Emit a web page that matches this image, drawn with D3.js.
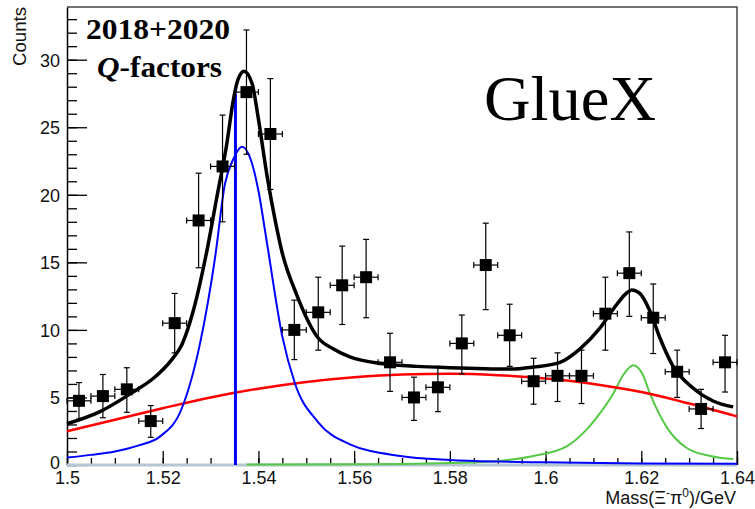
<!DOCTYPE html>
<html>
<head>
<meta charset="utf-8">
<script src="https://cdn.jsdelivr.net/npm/d3@7"></script>
<style>
body { margin: 0; background: #fff; }
svg { display: block; background: #fff; }
</style>
</head>
<body>
<svg id="drawing_region"></svg>
<script>
// histogram: bin centres (width 0.005 GeV), counts and error bar ends
const binCenters = [1.5025, 1.5075, 1.5125, 1.5175, 1.5225, 1.5275, 1.5325, 1.5375, 1.5425, 1.5475,
                    1.5525, 1.5575, 1.5625, 1.5675, 1.5725, 1.5775, 1.5825, 1.5875, 1.5925, 1.5975,
                    1.6025, 1.6075, 1.6125, 1.6175, 1.6225, 1.6275, 1.6325, 1.6375];
const counts    = [4.75, 5.1, 5.6, 3.25, 10.5, 18.1, 22.1, 27.6, 24.5, 10.0,
                   11.3, 13.3, 13.9, 7.6, 5.0, 5.75, 9.0, 14.8, 9.6, 6.2,
                   6.6, 6.6, 11.2, 14.2, 10.9, 6.9, 4.15, 7.6];
const errHigh   = [6.1, 6.7, 7.2, 4.4, 12.7, 21.6, 25.9, 32.2, 28.6, 12.2,
                   13.9, 16.2, 16.7, 9.75, 6.5, 7.3, 11.1, 17.9, 11.9, 7.9,
                   8.3, 8.5, 13.9, 17.25, 13.4, 8.5, 5.6, 9.6];
const errLow    = [3.4, 3.5, 3.9, 2.05, 8.3, 14.6, 18.0, 23.0, 20.4, 7.8,
                   8.5, 10.4, 10.9, 5.45, 3.3, 3.95, 6.75, 11.5, 7.3, 4.5,
                   4.7, 4.55, 8.5, 11.0, 8.25, 5.0, 2.7, 5.4];
const binHalfWidth = 0.0025;

// fit curves: [mass, counts]
const totalFit = [[1.5, 3.05], [1.5069, 3.95], [1.5138, 5.4], [1.518, 6.4], [1.5219, 7.8], [1.524, 8.9],
                  [1.5263, 11.3], [1.5292, 15.8], [1.5313, 19.8], [1.5334, 23.8], [1.5347, 26.9],
                  [1.5357, 28.5], [1.537, 29.15], [1.5387, 28.2], [1.540, 25.6], [1.5418, 21.4],
                  [1.5435, 18.1], [1.5449, 15.8], [1.548, 12.6], [1.5525, 9.4], [1.5556, 8.6],
                  [1.5591, 8.0], [1.566, 7.5], [1.5731, 7.3], [1.580, 7.2], [1.5926, 7.1],
                  [1.5974, 7.25], [1.603, 7.6], [1.6072, 8.6], [1.6114, 10.15], [1.6149, 11.9],
                  [1.617, 12.75], [1.618, 12.96], [1.6197, 12.7], [1.6218, 11.4], [1.6239, 9.4],
                  [1.6266, 7.33], [1.6308, 5.7], [1.635, 4.74], [1.6392, 4.3]];
const xi1530Fit = [[1.5, 0.55], [1.505, 0.75], [1.510, 1.0], [1.515, 1.45], [1.5194, 2.1], [1.524, 4.2],
                   [1.5278, 9.0], [1.531, 15.5], [1.533, 20.8], [1.5347, 22.6], [1.5366, 23.55],
                   [1.5385, 22.5], [1.540, 20.3], [1.5418, 16.4], [1.545, 9.5], [1.5476, 6.07],
                   [1.5524, 3.2], [1.559, 1.55], [1.5696, 0.67], [1.580, 0.37], [1.590, 0.25],
                   [1.600, 0.2], [1.620, 0.12], [1.640, 0.1]];
const xi1620Fit = [[1.5375, 0.03], [1.560, 0.05], [1.570, 0.07], [1.580, 0.14], [1.590, 0.3], [1.5975, 0.67],
                   [1.6045, 1.4], [1.6085, 2.6], [1.6115, 3.9], [1.6141, 5.26], [1.6163, 6.7],
                   [1.6183, 7.38], [1.6203, 6.7], [1.6218, 5.3], [1.6254, 2.75], [1.6295, 1.26],
                   [1.6344, 0.67], [1.6392, 0.44]];
const backgroundFit = [[1.50, 2.5], [1.51, 3.35], [1.52, 4.2], [1.53, 5.0], [1.54, 5.65], [1.55, 6.15],
                       [1.56, 6.5], [1.57, 6.7], [1.58, 6.75], [1.59, 6.65], [1.60, 6.4], [1.61, 6.0],
                       [1.62, 5.4], [1.63, 4.55], [1.64, 3.6]];
const thresholdLine = [1.5352, 27.5];

const xTickValues = [1.5, 1.52, 1.54, 1.56, 1.58, 1.6, 1.62, 1.64];
const yTickValues = [0, 5, 10, 15, 20, 25, 30];

class MassPlot {
    constructor(config) {
        this.config = config;
        this.init();
    }

    init() {
        const self = this;
        const cfg = self.config;

        self.svg = d3.select(cfg.parent)
            .attr("width", cfg.width)
            .attr("height", cfg.height);

        self.chart = self.svg.append("g")
            .attr("transform", `translate(${cfg.margin.left},${cfg.margin.top})`);

        self.inner_width  = cfg.width  - cfg.margin.left - cfg.margin.right;
        self.inner_height = cfg.height - cfg.margin.top  - cfg.margin.bottom;

        self.xscale = d3.scaleLinear().domain([1.5, 1.64]).range([0, self.inner_width]);
        self.yscale = d3.scaleLinear().domain([0, 33.9]).range([self.inner_height, 0]);
    }

    render() {
        const self = this;
        const x = self.xscale, y = self.yscale;
        const W = self.inner_width, H = self.inner_height;
        const sans = "'Liberation Sans', Arial, sans-serif";
        const serif = "'Liberation Serif', 'Times New Roman', serif";

        // frame
        self.chart.append("path")
            .attr("d", `M0,0H${W}V${H}`)
            .attr("fill", "none")
            .attr("stroke", "#444")
            .attr("stroke-width", 1.5);

        // minor + major ticks (inside the frame, ROOT style)
        const yMinor = d3.axisLeft(y).tickValues(d3.range(0, 34, 1)).tickSize(-10).tickSizeOuter(0).tickFormat("");
        const yMajor = d3.axisLeft(y).tickValues(yTickValues).tickSize(-20).tickSizeOuter(0).tickPadding(7);
        const xMinor = d3.axisBottom(x).tickValues(d3.range(0, 29).map(i => 1.5 + i * 0.005)).tickSize(-7).tickSizeOuter(0).tickFormat("");
        const xMajor = d3.axisBottom(x).tickValues(xTickValues).tickSize(-14).tickSizeOuter(0)
            .tickPadding(6).tickFormat(d3.format("~g"));

        const gy1 = self.chart.append("g").call(yMinor);
        const gy2 = self.chart.append("g").call(yMajor);
        const gx1 = self.chart.append("g").attr("transform", `translate(0,${H})`).call(xMinor);
        const gx2 = self.chart.append("g").attr("transform", `translate(0,${H})`).call(xMajor);

        [gy1, gy2, gx1, gx2].forEach(g => {
            g.selectAll(".tick line").attr("stroke", "#000").attr("stroke-width", 1.3);
            g.selectAll("text")
                .attr("fill", "#111")
                .style("font-family", sans)
                .style("font-size", "18px");
        });
        gy2.selectAll("text").attr("dy", "0.35em");
        gy2.selectAll(".tick").filter(d => d === 0).select("text").attr("dy", "0.2em");
        gy2.select(".domain").attr("stroke", "#000").attr("stroke-width", 1.5);
        gy1.select(".domain").remove();
        gx1.select(".domain").remove();
        gx2.select(".domain").remove();

        const line = d3.line()
            .x(d => x(d[0]))
            .y(d => y(d[1]))
            .curve(d3.curveMonotoneX);

        // baseline
        self.chart.append("line")
            .attr("x1", 0).attr("x2", W)
            .attr("y1", y(0)).attr("y2", y(0))
            .attr("stroke", "#b6c6d2")
            .attr("stroke-width", 3);

        self.chart.append("path").datum(xi1620Fit).attr("d", line)
            .attr("fill", "none").attr("stroke", "#55c845").attr("stroke-width", 2);
        self.chart.append("path").datum(backgroundFit).attr("d", line)
            .attr("fill", "none").attr("stroke", "#f00").attr("stroke-width", 2.5);
        self.chart.append("path").datum(xi1530Fit).attr("d", line)
            .attr("fill", "none").attr("stroke", "#00f").attr("stroke-width", 2);
        self.chart.append("line")
            .attr("x1", x(thresholdLine[0])).attr("x2", x(thresholdLine[0]))
            .attr("y1", y(0)).attr("y2", y(thresholdLine[1]))
            .attr("stroke", "#00f").attr("stroke-width", 3);
        self.chart.append("path").datum(totalFit).attr("d", line)
            .attr("fill", "none").attr("stroke", "#000").attr("stroke-width", 3.5);

        // data points with error bars
        const pts = binCenters.map((c, i) => ({ c, v: counts[i], hi: errHigh[i], lo: errLow[i] }));
        const cap = 3;
        const g = self.chart.append("g").attr("stroke", "#000").attr("stroke-width", 1.2);
        const p = g.selectAll("g.pt").data(pts).enter().append("g").attr("class", "pt");
        p.append("line")
            .attr("x1", d => x(d.c)).attr("x2", d => x(d.c))
            .attr("y1", d => y(d.hi)).attr("y2", d => y(d.lo));
        p.append("line")
            .attr("x1", d => x(d.c) - cap).attr("x2", d => x(d.c) + cap)
            .attr("y1", d => y(d.hi)).attr("y2", d => y(d.hi));
        p.append("line")
            .attr("x1", d => x(d.c) - cap).attr("x2", d => x(d.c) + cap)
            .attr("y1", d => y(d.lo)).attr("y2", d => y(d.lo));
        p.append("line")
            .attr("x1", d => x(d.c - binHalfWidth)).attr("x2", d => x(d.c + binHalfWidth))
            .attr("y1", d => y(d.v)).attr("y2", d => y(d.v));
        p.append("line")
            .attr("x1", d => x(d.c - binHalfWidth)).attr("x2", d => x(d.c - binHalfWidth))
            .attr("y1", d => y(d.v) - cap).attr("y2", d => y(d.v) + cap);
        p.append("line")
            .attr("x1", d => x(d.c + binHalfWidth)).attr("x2", d => x(d.c + binHalfWidth))
            .attr("y1", d => y(d.v) - cap).attr("y2", d => y(d.v) + cap);
        p.append("rect")
            .attr("x", d => x(d.c) - 6).attr("y", d => y(d.v) - 6)
            .attr("width", 12).attr("height", 12)
            .attr("fill", "#000").attr("stroke", "none");

        // labels
        self.svg.append("text")
            .attr("transform", "translate(26,7) rotate(-90)")
            .attr("text-anchor", "end")
            .style("font-family", sans).style("font-size", "18px").attr("fill", "#111")
            .attr("textLength", 59).attr("lengthAdjust", "spacingAndGlyphs")
            .text("Counts");

        const xl = self.svg.append("text")
            .attr("x", 736).attr("y", 504)
            .attr("text-anchor", "end")
            .style("font-family", sans).style("font-size", "18px").attr("fill", "#111");
        xl.append("tspan").text("Mass(\u039E");
        xl.append("tspan").attr("dy", -7).style("font-size", "12px").text("-");
        xl.append("tspan").attr("dy", 7).text("\u03C0");
        xl.append("tspan").attr("dy", -7).style("font-size", "12px").text("0");
        xl.append("tspan").attr("dy", 7).text(")/GeV");

        self.svg.append("text")
            .attr("x", 86).attr("y", 39)
            .style("font-family", serif).style("font-size", "30px").style("font-weight", "bold")
            .attr("textLength", 144).attr("lengthAdjust", "spacingAndGlyphs")
            .attr("fill", "#000")
            .text("2018+2020");
        const qf = self.svg.append("text")
            .attr("x", 97).attr("y", 77)
            .style("font-family", serif).style("font-size", "30px").style("font-weight", "bold")
            .attr("textLength", 125).attr("lengthAdjust", "spacingAndGlyphs")
            .attr("fill", "#000");
        qf.append("tspan").style("font-style", "italic").text("Q");
        qf.append("tspan").text("-factors");

        self.svg.append("text")
            .attr("x", 484).attr("y", 120)
            .style("font-family", serif).style("font-size", "64px")
            .attr("textLength", 172).attr("lengthAdjust", "spacingAndGlyphs")
            .attr("fill", "#000")
            .text("GlueX");
    }
}

const config = {
    parent: '#drawing_region',
    width: 755,
    height: 509,
    margin: {top: 7, right: 18, bottom: 44, left: 67}
};

const plot = new MassPlot(config);
plot.render();
</script>
</body>
</html>
